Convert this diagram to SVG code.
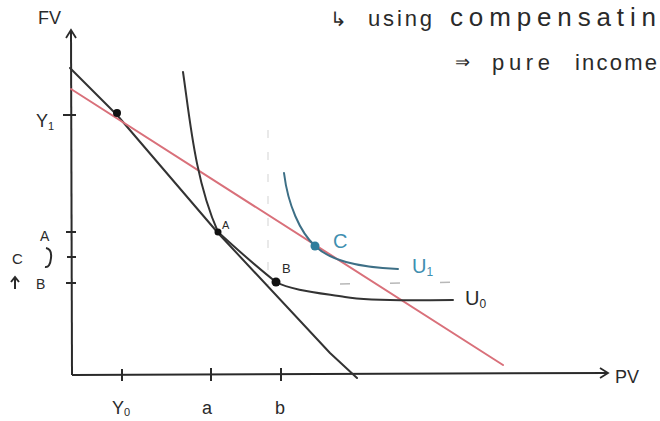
<svg xmlns="http://www.w3.org/2000/svg" width="660" height="421" viewBox="0 0 660 421">
<defs>
<style>
.ax{fill:none;stroke:#2a2a2a;stroke-width:2}
.ln{fill:none;stroke:#333;stroke-width:2;stroke-linecap:round;stroke-linejoin:round}
.red{fill:none;stroke:#d9707a;stroke-width:2;stroke-linecap:round}
.blue{fill:none;stroke:#3d6f86;stroke-width:2;stroke-linecap:round}
.guide{fill:none;stroke:#e2e2e2;stroke-width:1.5;stroke-dasharray:8 14}
.guide2{fill:none;stroke:#b8b8b8;stroke-width:1.5;stroke-dasharray:10 40}
.t{font-family:"Liberation Sans",Arial,sans-serif;fill:#2a2a2a}
.tb{font-family:"Liberation Sans",Arial,sans-serif;fill:#3f8fb0}
</style>
<marker id="ah" markerWidth="12" markerHeight="12" refX="9" refY="6" orient="auto" markerUnits="userSpaceOnUse">
<path d="M1,1 L9,6 L1,11" fill="none" stroke="#2a2a2a" stroke-width="1.8"/>
</marker>
</defs>
<rect width="660" height="421" fill="#fff"/>

<g id="notes">
<text class="t" x="330" y="26" font-size="20">↳</text>
<text class="t" x="368" y="26" font-size="22" textLength="64" lengthAdjust="spacing">using</text>
<text class="t" x="450" y="26" font-size="26" textLength="206" lengthAdjust="spacing">compensatin</text>
<text class="t" x="455" y="68" font-size="18">⇒</text>
<text class="t" x="492" y="70" font-size="22" textLength="58" lengthAdjust="spacing">pure</text>
<text class="t" x="575" y="70" font-size="22" textLength="82" lengthAdjust="spacing">income</text>
</g>

<g id="guides">
<path class="guide" d="M268,130 L268,285"/>
<path class="guide2" d="M340,284 L470,282"/>
</g>

<g id="axes">
<path class="ax" d="M72,375 L71,30" marker-end="url(#ah)"/>
<path class="ax" d="M72,375 L608,373" marker-end="url(#ah)"/>
<path class="ax" d="M63,115 L76,115 M66,232 L76,232 M67,257 L76,257 M66,283 L76,283"/>
<path class="ax" d="M122,369 L122,381 M211,368 L211,381 M281,368 L281,381"/>
<text class="t" x="38" y="24" font-size="18">FV</text>
<text class="t" x="615" y="383" font-size="18">PV</text>
<text class="t" x="36" y="127" font-size="18">Y<tspan font-size="11" dy="3">1</tspan></text>
<text class="t" x="40" y="241" font-size="14">A</text>
<text class="t" x="12" y="264" font-size="15">C</text>
<path class="ax" d="M46,248 Q52,249 51,258 Q50,268 45,267" stroke-width="1.5"/>
<path class="ax" d="M15,289 L15,278 M11,282 L15,277 L19,282" stroke-width="1.5"/>
<text class="t" x="36" y="289" font-size="14">B</text>
<text class="t" x="112" y="414" font-size="18">Y<tspan font-size="11" dy="2">0</tspan></text>
<text class="t" x="202" y="414" font-size="18">a</text>
<text class="t" x="275" y="414" font-size="18">b</text>
</g>

<g id="connectors">
<path id="budget" class="ln" d="M70,68 L117,115 L218,233 L330,353 L357,378"/>
<path id="compensated-budget" class="red" d="M71,89 L503,365"/>
<path id="U0" class="ln" d="M183,72 C190,120 195,180 218,232 C240,252 258,268 276,282 C290,290 320,293 345,297 C375,302 420,300 453,300"/>
<path id="U1" class="blue" d="M284,173 C288,205 300,232 315,246 C330,260 355,267 398,269"/>
</g>

<g id="point-Y1"><circle cx="117" cy="113" r="4" fill="#111"/></g>
<g id="point-A"><circle cx="218" cy="232" r="3.5" fill="#111"/><text class="t" x="222" y="229" font-size="11">A</text></g>
<g id="point-B"><circle cx="276" cy="282" r="4.5" fill="#111"/><text class="t" x="282" y="273" font-size="13">B</text></g>
<g id="point-C"><circle cx="315" cy="246" r="4.5" fill="#2f7d9c"/><text class="tb" x="333" y="248" font-size="20">C</text></g>
<g id="label-U1"><text class="tb" x="412" y="273" font-size="20">U<tspan font-size="12" dy="3">1</tspan></text></g>
<g id="label-U0"><text class="t" x="465" y="305" font-size="20">U<tspan font-size="12" dy="3">0</tspan></text></g>
</svg>
